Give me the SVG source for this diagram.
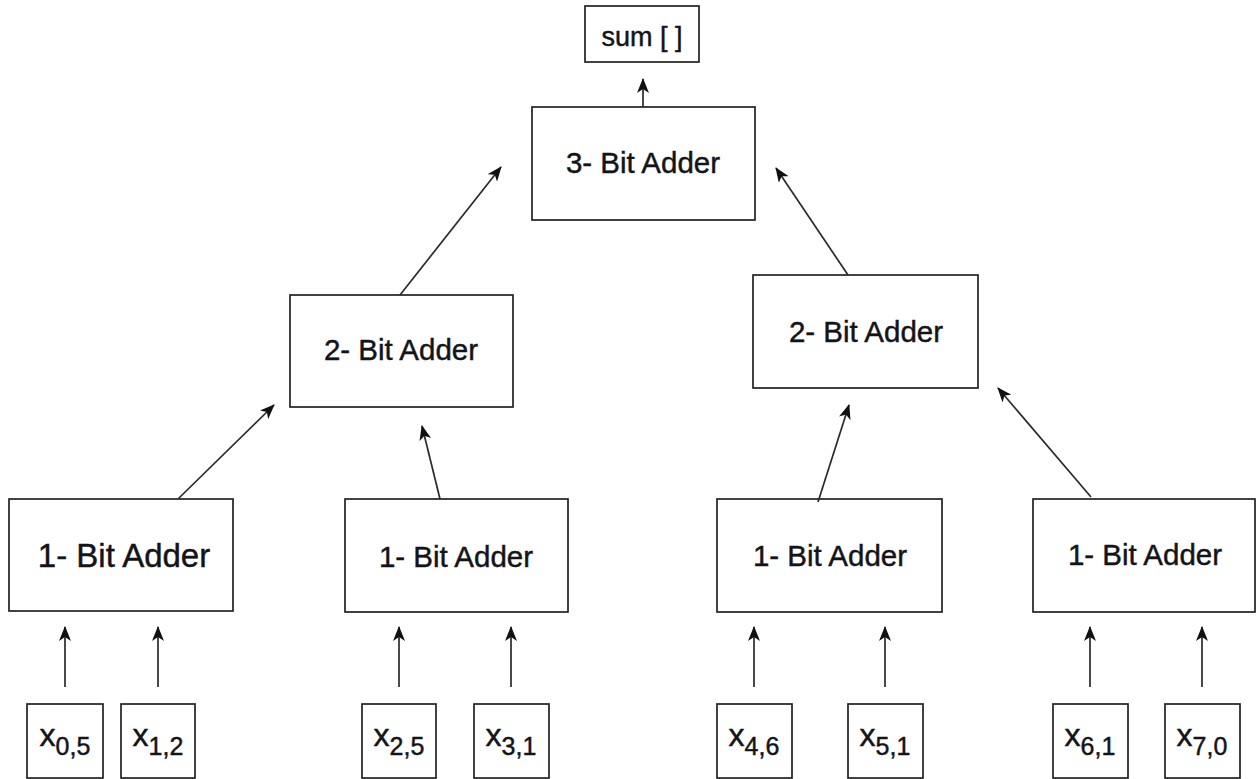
<svg xmlns="http://www.w3.org/2000/svg" width="1260" height="779" viewBox="0 0 1260 779">
  <style>
    .box { fill: #ffffff; stroke: #222222; stroke-width: 1.7; }
    .lbl { font-family: "Liberation Sans", Arial, Helvetica, sans-serif; fill: #141418; stroke: #141418; stroke-width: 0.45; text-anchor: middle; }
    .adder { font-size: 29.5px; }
    .inp { font-size: 32px; }
    .sub { font-size: 25px; }
    .edge { fill: none; stroke: #2a2a2a; stroke-width: 1.7; marker-end: url(#arrow); }
  </style>
  <defs>
    <marker id="arrow" viewBox="0 0 15 12" refX="14" refY="6" markerWidth="15" markerHeight="12" markerUnits="userSpaceOnUse" orient="auto">
      <path d="M0,0 L15,6 L0,12 L4,6 Z" fill="#111111"/>
    </marker>
  </defs>
  <rect width="1260" height="779" fill="#ffffff"/>

  <!-- output -->
  <g id="sum">
    <rect class="box" x="585" y="6" width="114" height="56"/>
    <text class="lbl" x="642" y="46" font-size="27">sum [ ]</text>
  </g>

  <!-- adder tree -->
  <g id="adder3">
    <rect class="box" x="532" y="107" width="223" height="113"/>
    <text class="lbl adder" x="643" y="173">3- Bit Adder</text>
  </g>
  <g id="adder2a">
    <rect class="box" x="290" y="295" width="223" height="112"/>
    <text class="lbl adder" x="401" y="360">2- Bit Adder</text>
  </g>
  <g id="adder2b">
    <rect class="box" x="753" y="275" width="225" height="113"/>
    <text class="lbl adder" x="866" y="342">2- Bit Adder</text>
  </g>
  <g id="adder1a">
    <rect class="box" x="9" y="499" width="224" height="112"/>
    <text class="lbl" x="124" y="567" font-size="33">1- Bit Adder</text>
  </g>
  <g id="adder1b">
    <rect class="box" x="345" y="499" width="223" height="113"/>
    <text class="lbl adder" x="456" y="567">1- Bit Adder</text>
  </g>
  <g id="adder1c">
    <rect class="box" x="717" y="499" width="225" height="113"/>
    <text class="lbl adder" x="830" y="566">1- Bit Adder</text>
  </g>
  <g id="adder1d">
    <rect class="box" x="1033" y="499" width="222" height="113"/>
    <text class="lbl adder" x="1145" y="565">1- Bit Adder</text>
  </g>

  <!-- inputs -->
  <g id="x05">
    <rect class="box" x="27" y="704" width="76" height="74"/>
    <text class="lbl inp" x="65" y="746">x<tspan class="sub" dy="9">0,5</tspan></text>
  </g>
  <g id="x12">
    <rect class="box" x="121" y="704" width="74" height="74"/>
    <text class="lbl inp" x="158" y="746">x<tspan class="sub" dy="9">1,2</tspan></text>
  </g>
  <g id="x25">
    <rect class="box" x="362" y="704" width="74" height="74"/>
    <text class="lbl inp" x="399" y="746">x<tspan class="sub" dy="9">2,5</tspan></text>
  </g>
  <g id="x31">
    <rect class="box" x="474" y="704" width="75" height="74"/>
    <text class="lbl inp" x="511" y="746">x<tspan class="sub" dy="9">3,1</tspan></text>
  </g>
  <g id="x46">
    <rect class="box" x="717" y="704" width="75" height="74"/>
    <text class="lbl inp" x="754" y="746">x<tspan class="sub" dy="9">4,6</tspan></text>
  </g>
  <g id="x51">
    <rect class="box" x="848" y="704" width="75" height="74"/>
    <text class="lbl inp" x="885" y="746">x<tspan class="sub" dy="9">5,1</tspan></text>
  </g>
  <g id="x61">
    <rect class="box" x="1053" y="704" width="75" height="74"/>
    <text class="lbl inp" x="1090" y="746">x<tspan class="sub" dy="9">6,1</tspan></text>
  </g>
  <g id="x70">
    <rect class="box" x="1165" y="704" width="75" height="74"/>
    <text class="lbl inp" x="1202" y="746">x<tspan class="sub" dy="9">7,0</tspan></text>
  </g>

  <!-- connectors -->
  <g id="connectors">
    <line class="edge" x1="643" y1="107" x2="643" y2="79"/>
    <line class="edge" x1="400" y1="295" x2="501" y2="167"/>
    <line class="edge" x1="848" y1="275" x2="776" y2="168"/>
    <line class="edge" x1="178" y1="499" x2="274" y2="405"/>
    <line class="edge" x1="440" y1="499" x2="422" y2="426"/>
    <line class="edge" x1="818" y1="502" x2="849" y2="405"/>
    <line class="edge" x1="1091" y1="497" x2="998" y2="388"/>
    <line class="edge" x1="65" y1="687" x2="65" y2="627"/>
    <line class="edge" x1="158" y1="687" x2="158" y2="627"/>
    <line class="edge" x1="399" y1="687" x2="399" y2="627"/>
    <line class="edge" x1="511" y1="687" x2="511" y2="627"/>
    <line class="edge" x1="754" y1="687" x2="754" y2="627"/>
    <line class="edge" x1="885" y1="687" x2="885" y2="627"/>
    <line class="edge" x1="1090" y1="687" x2="1090" y2="627"/>
    <line class="edge" x1="1202" y1="687" x2="1202" y2="627"/>
  </g>
</svg>
